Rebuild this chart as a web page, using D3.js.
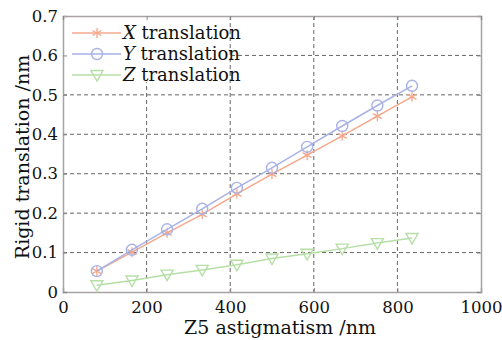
<!DOCTYPE html>
<html>
<head>
<meta charset="utf-8">
<script src="https://cdn.jsdelivr.net/npm/d3@7"></script>
<style>
  body { margin: 0; background: #fff; }
  svg { display: block; font-family: "DejaVu Serif", serif; }
</style>
</head>
<body>
<div id="chart"></div>
<script>
// values
const astigmatism = [81, 165, 249, 333, 416, 500, 584, 668, 752, 835];
const xTranslation = [0.053, 0.101, 0.150, 0.197, 0.249, 0.299, 0.347, 0.396, 0.446, 0.495];
const yTranslation = [0.053, 0.107, 0.159, 0.211, 0.264, 0.315, 0.368, 0.421, 0.473, 0.523];
const zTranslation = [0.017, 0.029, 0.044, 0.056, 0.069, 0.085, 0.097, 0.110, 0.124, 0.137];
const xTicks = [0, 200, 400, 600, 800, 1000];
const yTicks = [0, 0.1, 0.2, 0.3, 0.4, 0.5, 0.6, 0.7];
const seriesNames = ["X", "Y", "Z"];

const width = 502, height = 340;
const margin = { top: 16, right: 21, bottom: 48, left: 63 };
const innerW = width - margin.left - margin.right;
const innerH = height - margin.top - margin.bottom;

const svg = d3.select("#chart").append("svg")
    .attr("width", width)
    .attr("height", height);

const g = svg.append("g")
    .attr("transform", `translate(${margin.left},${margin.top})`);

const x = d3.scaleLinear().domain([0, 1000]).range([0, innerW]);
const y = d3.scaleLinear().domain([0, 0.7]).range([innerH, 0]);

// dashed grid
g.append("g").selectAll("line")
    .data(xTicks.slice(1, -1))
    .enter().append("line")
    .attr("x1", d => x(d)).attr("x2", d => x(d))
    .attr("y1", 0).attr("y2", innerH)
    .attr("stroke", "#666").attr("stroke-width", 1)
    .attr("stroke-dasharray", "4,3");

g.append("g").selectAll("line")
    .data(yTicks.slice(1, -1))
    .enter().append("line")
    .attr("x1", 0).attr("x2", innerW)
    .attr("y1", d => y(d)).attr("y2", d => y(d))
    .attr("stroke", "#666").attr("stroke-width", 1)
    .attr("stroke-dasharray", "4,3");

// legend background hides part of the grid
g.append("rect")
    .attr("x", 1).attr("y", 1)
    .attr("width", 165).attr("height", 65)
    .attr("fill", "#fff");

// axes: ticks inside, labels outside
const xAxis = g.append("g")
    .attr("transform", `translate(0,${innerH})`)
    .call(d3.axisBottom(x).tickValues(xTicks).tickFormat(d3.format("d")).tickSize(-4).tickPadding(6));
const yAxis = g.append("g")
    .call(d3.axisLeft(y).tickValues(yTicks).tickFormat(d => d === 0 ? "0" : d3.format(".1f")(d)).tickSize(-4).tickPadding(5));
g.append("g")
    .attr("transform", `translate(${innerW},0)`)
    .call(d3.axisRight(y).tickValues(yTicks).tickSize(-4).tickFormat(""));
g.append("g")
    .call(d3.axisTop(x).tickValues(xTicks).tickSize(-4).tickFormat(""));

g.selectAll(".domain").attr("stroke", "#a8a2a2").attr("stroke-width", 1.5);
g.selectAll(".tick line").attr("stroke", "#888");
g.selectAll(".tick text")
    .attr("fill", "#111")
    .style("font-family", "DejaVu Serif, serif")
    .style("font-size", "16.5px");
xAxis.selectAll(".tick text").attr("dy", "0.9em");

// axis titles
svg.append("text")
    .attr("x", margin.left + innerW / 2 + 8)
    .attr("y", 334)
    .attr("text-anchor", "middle")
    .style("font-size", "19px")
    .attr("fill", "#111")
    .text("Z5 astigmatism /nm");

svg.append("text")
    .attr("transform", `translate(29,${margin.top + innerH / 2 + 3}) rotate(-90)`)
    .attr("text-anchor", "middle")
    .style("font-size", "19px")
    .attr("fill", "#111")
    .text("Rigid translation /nm");

// series
const series = [
    { name: "X", values: xTranslation, color: "#f6a88c", marker: "star" },
    { name: "Y", values: yTranslation, color: "#a8b2e6", marker: "circle" },
    { name: "Z", values: zTranslation, color: "#b6dfa6", marker: "triangle" }
];

const line = d3.line()
    .x(d => x(d[0]))
    .y(d => y(d[1]));

function drawMarker(sel, type, color) {
    if (type === "circle") {
        sel.append("circle").attr("r", 5.5)
            .attr("fill", "none").attr("stroke", color).attr("stroke-width", 1.4);
    } else if (type === "triangle") {
        sel.append("path").attr("d", "M-6,-4.5L6,-4.5L0,6Z")
            .attr("fill", "none").attr("stroke", color).attr("stroke-width", 1.4);
    } else {
        sel.append("path").attr("d", "M0,-5V5M-4.5,-2.5L4.5,2.5M-4.5,2.5L4.5,-2.5")
            .attr("fill", "none").attr("stroke", color).attr("stroke-width", 1.3);
    }
}

series.forEach(s => {
    const pts = astigmatism.map((a, i) => [a, s.values[i]]);
    g.append("path")
        .datum(pts)
        .attr("d", line)
        .attr("fill", "none")
        .attr("stroke", s.color)
        .attr("stroke-width", 1.5);
    g.append("g").selectAll("g")
        .data(pts)
        .enter().append("g")
        .attr("transform", d => `translate(${x(d[0])},${y(d[1])})`)
        .each(function () { drawMarker(d3.select(this), s.marker, s.color); });
});

// legend
const legend = g.append("g").attr("transform", "translate(9,17)");
series.forEach((s, i) => {
    const row = legend.append("g").attr("transform", `translate(0,${i * 21})`);
    row.append("line")
        .attr("x1", 0).attr("x2", 49)
        .attr("stroke", s.color).attr("stroke-width", 1.5);
    drawMarker(row.append("g").attr("transform", "translate(25,0)"), s.marker, s.color);
    const t = row.append("text")
        .attr("x", 51).attr("y", 6)
        .style("font-size", "18px")
        .attr("fill", "#111");
    t.append("tspan").attr("font-style", "italic").text(seriesNames[i]);
    t.append("tspan").text(" translation");
});
</script>
</body>
</html>
